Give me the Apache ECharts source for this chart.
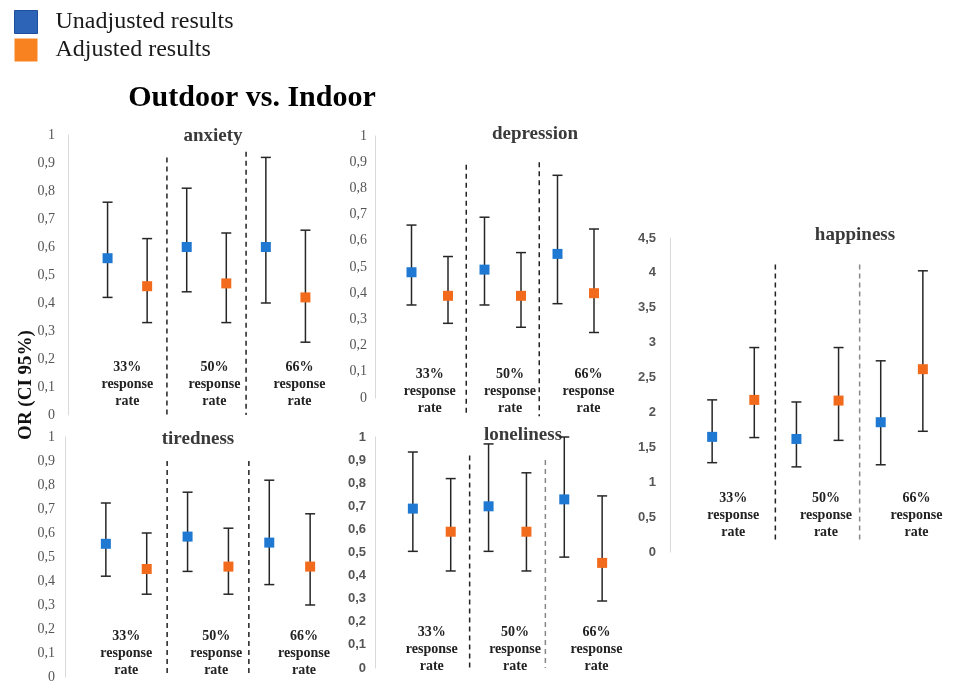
<!DOCTYPE html>
<html><head><meta charset="utf-8">
<script src="https://cdn.jsdelivr.net/npm/echarts@6/dist/echarts.min.js"></script>
<style>html,body{margin:0;padding:0;background:#fff}#c{width:965px;height:684px}</style>
</head><body><div id="c"></div>
<script>
// ---------- data ----------
const rateLabels = ['33%\nresponse\nrate', '50%\nresponse\nrate', '66%\nresponse\nrate'];

const anxietyUnadj     = [0.56, 0.60, 0.60];
const anxietyUnadjLow  = [0.42, 0.44, 0.40];
const anxietyUnadjHigh = [0.76, 0.81, 0.92];
const anxietyAdj       = [0.46, 0.47, 0.42];
const anxietyAdjLow    = [0.33, 0.33, 0.26];
const anxietyAdjHigh   = [0.63, 0.65, 0.66];

const depressionUnadj     = [0.48, 0.49, 0.55];
const depressionUnadjLow  = [0.355, 0.355, 0.36];
const depressionUnadjHigh = [0.66, 0.69, 0.85];
const depressionAdj       = [0.39, 0.39, 0.40];
const depressionAdjLow    = [0.285, 0.27, 0.25];
const depressionAdjHigh   = [0.54, 0.555, 0.645];

const happinessUnadj     = [1.65, 1.62, 1.86];
const happinessUnadjLow  = [1.28, 1.22, 1.25];
const happinessUnadjHigh = [2.18, 2.15, 2.74];
const happinessAdj       = [2.18, 2.17, 2.62];
const happinessAdjLow    = [1.64, 1.60, 1.73];
const happinessAdjHigh   = [2.93, 2.93, 4.03];

const tirednessUnadj     = [0.555, 0.585, 0.56];
const tirednessUnadjLow  = [0.42, 0.44, 0.385];
const tirednessUnadjHigh = [0.725, 0.77, 0.82];
const tirednessAdj       = [0.45, 0.46, 0.46];
const tirednessAdjLow    = [0.345, 0.345, 0.30];
const tirednessAdjHigh   = [0.60, 0.62, 0.68];

const lonelinessUnadj     = [0.69, 0.70, 0.73];
const lonelinessUnadjLow  = [0.505, 0.505, 0.48];
const lonelinessUnadjHigh = [0.935, 0.97, 1.0];
const lonelinessAdj       = [0.59, 0.59, 0.455];
const lonelinessAdjLow    = [0.42, 0.42, 0.29];
const lonelinessAdjHigh   = [0.82, 0.845, 0.745];

// ---------- layout ----------
const BLUE = '#1F78D1', ORANGE = '#F26B1D';
const panels = [
  {title:'anxiety', u:[anxietyUnadj,anxietyUnadjLow,anxietyUnadjHigh], a:[anxietyAdj,anxietyAdjLow,anxietyAdjHigh],
   grid:{left:68,top:135,width:277,height:280}, yMax:1, yStep:0.1, sans:false, margin:13, tpos:[213,136],
   sep:[[0.92,0],[0.94,0]], sepColor:['#222','#222'], labelY:0.11},
  {title:'depression', u:[depressionUnadj,depressionUnadjLow,depressionUnadjHigh], a:[depressionAdj,depressionAdjLow,depressionAdjHigh],
   grid:{left:375,top:136,width:255.5,height:262}, yMax:1, yStep:0.1, sans:false, margin:8, tpos:[535,134],
   sep:[[0.89,-0.07],[0.9,-0.07]], sepColor:['#222','#222'], labelY:0.025},
  {title:'happiness', u:[happinessUnadj,happinessUnadjLow,happinessUnadjHigh], a:[happinessAdj,happinessAdjLow,happinessAdjHigh],
   grid:{left:670,top:238,width:319,height:314}, yMax:4.5, yStep:0.5, sans:true, margin:14, tpos:[855,235],
   sep:[[4.12,0.17],[4.12,0.17]], sepColor:['#222','#888'], labelY:0.52},
  {title:'tiredness', u:[tirednessUnadj,tirednessUnadjLow,tirednessUnadjHigh], a:[tirednessAdj,tirednessAdjLow,tirednessAdjHigh],
   grid:{left:65,top:437,width:286,height:241}, yMax:1, yStep:0.1, sans:false, margin:10, tpos:[198,439],
   sep:[[0.9,0.01],[0.9,0.01]], sepColor:['#222','#222'], labelY:0.1},
  {title:'loneliness', u:[lonelinessUnadj,lonelinessUnadjLow,lonelinessUnadjHigh], a:[lonelinessAdj,lonelinessAdjLow,lonelinessAdjHigh],
   grid:{left:375,top:437,width:265,height:231}, yMax:1, yStep:0.1, sans:true, margin:9, tpos:[523,435],
   sep:[[0.92,0],[0.9,0]], sepColor:['#222','#888'], labelY:0.08}
];
const labelShift = [0, 0.2, 0.35];

function errRender(params, api) {
  const x = api.value(0), lo = api.value(1), hi = api.value(2);
  const pLo = api.coord([x, lo]), pHi = api.coord([x, hi]);
  const hw = 5, st = {stroke:'#262626', lineWidth:1.5};
  return {type:'group', children:[
    {type:'line', shape:{x1:pLo[0],y1:pLo[1],x2:pHi[0],y2:pHi[1]}, style:st},
    {type:'line', shape:{x1:pHi[0]-hw,y1:pHi[1],x2:pHi[0]+hw,y2:pHi[1]}, style:st},
    {type:'line', shape:{x1:pLo[0]-hw,y1:pLo[1],x2:pLo[0]+hw,y2:pLo[1]}, style:st}
  ]};
}

const grids = [], xAxes = [], yAxes = [], series = [], graphics = [];
panels.forEach((p, i) => {
  grids.push(Object.assign({containLabel:false}, p.grid));
  xAxes.push({type:'value', gridIndex:i, min:-1, max:6, show:false});
  yAxes.push({type:'value', gridIndex:i, min:0, max:p.yMax, interval:p.yStep,
    axisLine:{show:true, onZero:false, lineStyle:{color:'#d9d9d9', width:1}}, axisTick:{show:false}, splitLine:{show:false},
    axisLabel:{margin:p.margin, color:'#555', fontSize:p.sans?13:14, fontWeight:p.sans?'bold':'normal',
      fontFamily:p.sans?'Liberation Sans':'Liberation Serif',
      formatter:v => String(+v.toFixed(2)).replace('.', ',')}});
  const sp = p;
  // separators
  series.push({type:'custom', xAxisIndex:i, yAxisIndex:i, silent:true, z:1,
    data:[[1.5, 0], [3.5, 1]], encode:{x:0, y:1},
    renderItem:(params, api) => {
      const k = params.dataIndex, x = api.value(0);
      const a = api.coord([x, sp.sep[k][0]]), b = api.coord([x, sp.sep[k][1]]);
      return {type:'line', shape:{x1:a[0],y1:a[1],x2:b[0],y2:b[1]},
        style:{stroke:sp.sepColor[k], lineWidth:1.5, lineDash:[5,4]}};
    }});
  // error bars
  const errData = [];
  for (let g = 0; g < 3; g++) {
    errData.push([2*g, p.u[1][g], p.u[2][g]]);
    errData.push([2*g+1, p.a[1][g], p.a[2][g]]);
  }
  series.push({type:'custom', xAxisIndex:i, yAxisIndex:i, silent:true, z:2,
    data:errData, encode:{x:0, y:[1,2]}, renderItem:errRender});
  // points
  series.push({name:'Unadjusted results', type:'scatter', xAxisIndex:i, yAxisIndex:i, z:3,
    symbol:'rect', symbolSize:10, itemStyle:{color:BLUE, opacity:1}, data:p.u[0].map((v,g)=>[2*g, v])});
  series.push({name:'Adjusted results', type:'scatter', xAxisIndex:i, yAxisIndex:i, z:3,
    symbol:'rect', symbolSize:10, itemStyle:{color:ORANGE, opacity:1}, data:p.a[0].map((v,g)=>[2*g+1, v])});
  // response-rate labels
  series.push({type:'custom', xAxisIndex:i, yAxisIndex:i, silent:true, z:2,
    data:rateLabels.map((t,g)=>[2*g+0.5+labelShift[g], sp.labelY, g]), encode:{x:0, y:1},
    renderItem:(params, api) => {
      const c = api.coord([api.value(0), api.value(1)]);
      return {type:'text', x:c[0], y:c[1], style:{text:rateLabels[api.value(2)], align:'center', verticalAlign:'middle',
        fontFamily:'Liberation Serif', fontWeight:'bold', fontSize:14, lineHeight:17, fill:'#222'}};
    }});
  graphics.push({type:'text', x:p.tpos[0], y:p.tpos[1], style:{text:p.title, align:'center', verticalAlign:'middle',
    fontFamily:'Liberation Serif', fontWeight:'bold', fontSize:19, fill:'#3a3a3a'}});
});

graphics.push({type:'text', x:252, y:98, style:{text:'Outdoor vs. Indoor', align:'center', verticalAlign:'middle',
  fontFamily:'Liberation Serif', fontWeight:'bold', fontSize:30, fill:'#000'}});
graphics.push({type:'text', x:26, y:385, rotation:Math.PI/2, style:{text:'OR (CI 95%)', align:'center', verticalAlign:'middle',
  fontFamily:'Liberation Serif', fontWeight:'bold', fontSize:19, fill:'#111'}});

const chart = echarts.init(document.getElementById('c'), null, {renderer:'canvas'});
chart.setOption({
  animation:false,
  backgroundColor:'#fff',
  legend:{orient:'vertical', left:14, top:10, padding:0, itemWidth:23, itemHeight:23, itemGap:4, icon:'rect', selectedMode:false,
    data:[{name:'Unadjusted results', itemStyle:{color:'#2E64B7', borderColor:'#1F4E9A', borderWidth:1, opacity:1}},
          {name:'Adjusted results', itemStyle:{color:'#F7821F', opacity:1}}],
    textStyle:{fontFamily:'Liberation Serif', fontSize:24, color:'#1a1a1a', padding:[0,0,0,13]}},
  grid:grids, xAxis:xAxes, yAxis:yAxes, series:series, graphic:graphics
});
</script></body></html>
